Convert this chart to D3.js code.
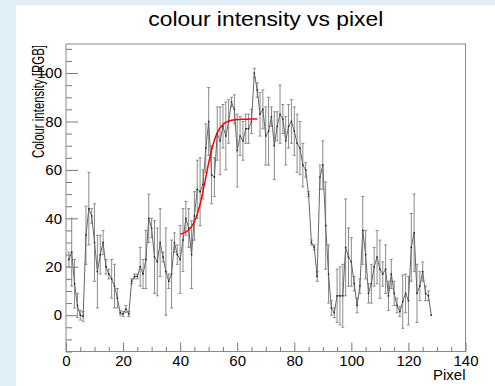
<!DOCTYPE html>
<html>
<head>
<meta charset="utf-8">
<script src="https://cdn.jsdelivr.net/npm/d3@7"></script>
<style>
  body { margin: 0; background: #fff; }
  text { font-family: "Liberation Sans", Arial, Helvetica, sans-serif; }
</style>
</head>
<body>
<div id="app"></div>
<script>
// pixel index 1..128
const pixels = d3.range(1, 129);

// colour intensity
const intensity = [
  23, 26, 13, 4, 0, -0.5, 33, 44, 41, 30,
  18, 25, 30, 20, 17, 15, 12, 7, 1, 0.5,
  2.5, 0.5, 14, 16, 16, 20, 17, 23, 40, 36,
  24, 22, 30, 24, 18, 14, 17, 30, 25, 23,
  31, 40, 36, 25, 41, 52, 51, 54, 69, 80,
  58, 57, 75, 72, 78, 74, 80, 88, 85, 68,
  74, 72, 77, 77, 80, 100, 93, 83, 85, 74,
  76, 82, 70, 78, 83, 81, 72, 78, 80, 76,
  71, 69, 62, 60, 50, 30, 28, 16, 57, 62,
  37, 17, 3, 1, 8, 8, 8, 28, 24, 22,
  13, 4, 12, 35, 25, 9, 13, 20, 24, 19,
  17, 19, 8, 17, 9, 4, 1.5, 5.6, 9, 6,
  28, 34, 9, 12, 18, 9, 8, 0
];

// error on each point
const errors = [
  3, 14, 10, 5, 2, 2, 12, 15, 3, 16,
  15, 8, 5, 3, 2, 8, 9, 4, 1, 1,
  1.5, 1, 1, 1, 1, 8, 6, 12, 10, 4,
  15, 14, 14, 2, 18, 3, 14, 4, 4, 14,
  13, 7, 8, 14, 10, 12, 14, 6, 10, 14,
  12, 8, 11, 14, 9, 14, 9, 2, 6, 15,
  8, 8, 6, 6, 5, 2, 3, 9, 8, 12,
  14, 4, 14, 6, 12, 6, 10, 9, 9, 10,
  12, 11, 9, 3, 1, 1, 1, 2, 5, 10,
  18, 12, 3, 2, 11, 12, 13, 20, 12, 10,
  3, 3, 3, 14, 10, 4, 8, 8, 11, 12,
  5, 10, 6, 6, 5, 3, 2, 11, 8, 10,
  14, 16, 12, 6, 4, 3, 2, 0
];

// sigmoid fit: low + (high-low)/(1+exp(-(x-mid)/width))
const fitRange = [40, 67];
const fitLow = 33, fitHigh = 81, fitMid = 49, fitWidth = 2;

const xTicksMajor = [0, 20, 40, 60, 80, 100, 120, 140];
const yTicksMajor = [0, 20, 40, 60, 80, 100];

const W = 495, H = 386;
const frame = {left: 66, right: 465.5, top: 44, bottom: 351.5};

const svg = d3.select("#app").append("svg")
    .attr("width", W)
    .attr("height", H);

// light blue canvas edge
svg.append("rect").attr("width", W).attr("height", H).attr("fill", "#e1eff9");
svg.append("rect").attr("x", 16).attr("y", 5)
    .attr("width", W - 16).attr("height", H - 5).attr("fill", "#fff");

const x = d3.scaleLinear().domain([0, 140]).range([frame.left, frame.right]);
const y = d3.scaleLinear().domain([-15, 112]).range([frame.bottom, frame.top]);

const tickColor = "#777";

// x axis: major + minor ticks pointing inward
const xMinor = d3.range(0, 141, 5).filter(v => v % 20 !== 0);
const gx = svg.append("g").attr("transform", `translate(0,${frame.bottom})`);
gx.append("g")
    .call(d3.axisBottom(x).tickValues(xMinor).tickSizeInner(-4.5).tickSizeOuter(0).tickFormat(""));
gx.append("g")
    .call(d3.axisBottom(x).tickValues(xTicksMajor).tickSizeInner(-9).tickSizeOuter(0).tickPadding(3.5));
gx.selectAll(".domain").remove();
gx.selectAll("line").attr("stroke", tickColor);
gx.selectAll("text").attr("font-size", 15).attr("fill", "#000");

// y axis
const yMinor = d3.range(-15, 112, 5).filter(v => v % 20 !== 0);
const gy = svg.append("g").attr("transform", `translate(${frame.left},0)`);
gy.append("g")
    .call(d3.axisLeft(y).tickValues(yMinor).tickSizeInner(-6).tickSizeOuter(0).tickFormat(""));
gy.append("g")
    .call(d3.axisLeft(y).tickValues(yTicksMajor).tickSizeInner(-12).tickSizeOuter(0).tickPadding(4));
gy.selectAll(".domain").remove();
gy.selectAll("line").attr("stroke", tickColor);
gy.selectAll("text").attr("font-size", 15).attr("fill", "#000");

// frame
svg.append("rect")
    .attr("x", frame.left).attr("y", frame.top)
    .attr("width", frame.right - frame.left)
    .attr("height", frame.bottom - frame.top)
    .attr("fill", "none")
    .attr("stroke", "#888")
    .attr("stroke-width", 1);

const data = pixels.map((p, i) => ({x: p, v: intensity[i], e: errors[i]}));

// error bars
const eb = svg.append("g").attr("stroke", "#8a8a8a").attr("stroke-width", 1);
eb.selectAll("line.bar")
    .data(data.filter(d => d.e > 0))
    .join("line")
    .attr("class", "bar")
    .attr("x1", d => x(d.x)).attr("x2", d => x(d.x))
    .attr("y1", d => y(d.v - d.e)).attr("y2", d => y(d.v + d.e));
eb.selectAll("line.cap")
    .data(data.filter(d => d.e > 0).flatMap(d => [
        {x: d.x, v: d.v - d.e}, {x: d.x, v: d.v + d.e}]))
    .join("line")
    .attr("class", "cap")
    .attr("x1", d => x(d.x) - 1.5).attr("x2", d => x(d.x) + 1.5)
    .attr("y1", d => y(d.v)).attr("y2", d => y(d.v));

// connecting line
const line = d3.line().x(d => x(d.x)).y(d => y(d.v));
svg.append("path")
    .datum(data)
    .attr("fill", "none")
    .attr("stroke", "#666")
    .attr("stroke-width", 1)
    .attr("d", line);

// point markers
svg.append("g").attr("fill", "#222")
    .selectAll("rect")
    .data(data)
    .join("rect")
    .attr("x", d => x(d.x) - 0.75)
    .attr("y", d => y(d.v) - 0.75)
    .attr("width", 1.5).attr("height", 1.5);

// fit curve
const fit = xv => fitLow + (fitHigh - fitLow) / (1 + Math.exp(-(xv - fitMid) / fitWidth));
const fitPts = d3.range(fitRange[0], fitRange[1] + 0.01, 0.25).map(xv => ({x: xv, v: fit(xv)}));
svg.append("path")
    .datum(fitPts)
    .attr("fill", "none")
    .attr("stroke", "#f00")
    .attr("stroke-width", 1.5)
    .attr("d", line);

// title
svg.append("text")
    .attr("x", (frame.left + frame.right) / 2)
    .attr("y", 26)
    .attr("text-anchor", "middle")
    .attr("font-size", 21)
    .attr("textLength", 235)
    .attr("lengthAdjust", "spacingAndGlyphs")
    .text("colour intensity vs pixel");

// axis titles
svg.append("text")
    .attr("x", frame.right)
    .attr("y", 380)
    .attr("text-anchor", "end")
    .attr("font-size", 15)
    .text("Pixel");

svg.append("text")
    .attr("transform", `translate(44,${frame.top + 1}) rotate(-90)`)
    .attr("text-anchor", "end")
    .attr("font-size", 16)
    .attr("textLength", 113)
    .attr("lengthAdjust", "spacingAndGlyphs")
    .text("Colour intensity [RGB]");
</script>
</body>
</html>
